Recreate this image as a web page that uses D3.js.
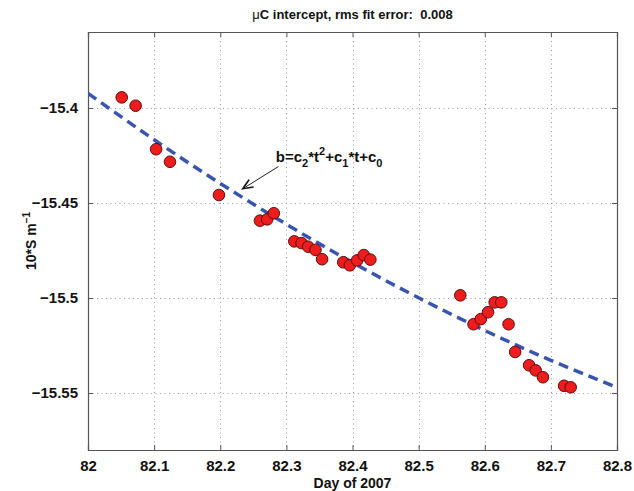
<!DOCTYPE html>
<html>
<head>
<meta charset="utf-8">
<script src="https://cdn.jsdelivr.net/npm/d3@7"></script>
<style>
body { margin: 0; background: #fff; }
text { font-family: "Liberation Sans", Arial, Helvetica, sans-serif; font-weight: bold; }
</style>
</head>
<body>
<script>

const w = 634;
const h = 491;

// measured points
const days = [82.051, 82.072, 82.103, 82.124, 82.198, 82.260, 82.271, 82.281,
    82.312, 82.323, 82.333, 82.344, 82.354, 82.386, 82.396, 82.407, 82.417, 82.427,
    82.563, 82.583, 82.594, 82.605, 82.615, 82.625, 82.636, 82.646, 82.667, 82.677,
    82.688, 82.720, 82.730];
const intercepts = [-15.3944, -15.3988, -15.4217, -15.4283, -15.4458, -15.4593, -15.4586, -15.4554,
    -15.4702, -15.4711, -15.4730, -15.4747, -15.4796, -15.4812, -15.4828, -15.4802, -15.4774, -15.4798,
    -15.4986, -15.5138, -15.5111, -15.5075, -15.5023, -15.5023, -15.5138, -15.5284, -15.5354, -15.5381,
    -15.5417, -15.5462, -15.5470];

// quadratic fit
const fitDays = [82, 82.1, 82.2, 82.3, 82.4, 82.5, 82.6, 82.7, 82.8];
const fitVals = [-15.3923, -15.4167, -15.4397, -15.4612, -15.4813, -15.4999, -15.5171, -15.5328, -15.5470];

const xTicks = [82, 82.1, 82.2, 82.3, 82.4, 82.5, 82.6, 82.7, 82.8];
const yTicks = [-15.4, -15.45, -15.5, -15.55];

const mLeft = 88, mRight = 617, mTop = 32, mBottom = 450;

let svg = d3.select("body")
    .append("svg")
    .attr("width", w)
    .attr("height", h)

svg.append("rect").attr("width", w).attr("height", h).attr("fill", "#fff")

var x = d3.scaleLinear().domain([82, 82.8]).range([mLeft, mRight]);
var y = d3.scaleLinear().domain([-15.58, -15.36]).range([mBottom, mTop]);

const fmt = d => d3.format("")(d).replace("-", "\u2212");

// grid
var grid = svg.append("g").attr("stroke", "#9a9a9a").attr("stroke-width", 1).attr("stroke-dasharray", "1,3.5")
grid.selectAll(".gx").data(xTicks.slice(1, -1)).enter().append("line")
    .attr("x1", d => Math.round(x(d)) + 0.5).attr("x2", d => Math.round(x(d)) + 0.5)
    .attr("y1", mTop).attr("y2", mBottom)
grid.selectAll(".gy").data(yTicks).enter().append("line")
    .attr("y1", d => Math.round(y(d)) + 0.5).attr("y2", d => Math.round(y(d)) + 0.5)
    .attr("x1", mLeft).attr("x2", mRight)

// axes (ticks inward, box)
var xAxis = svg.append("g").attr("transform", "translate(0," + mBottom + ")")
    .call(d3.axisBottom(x).tickValues(xTicks).tickSize(-5).tickPadding(10).tickFormat(fmt))
var xTop = svg.append("g").attr("transform", "translate(0," + mTop + ")")
    .call(d3.axisTop(x).tickValues(xTicks).tickSize(-5).tickFormat(""))
var yAxis = svg.append("g").attr("transform", "translate(" + mLeft + ",0)")
    .call(d3.axisLeft(y).tickValues(yTicks).tickSize(-5).tickPadding(10).tickFormat(fmt))
var yRight = svg.append("g").attr("transform", "translate(" + mRight + ",0)")
    .call(d3.axisRight(y).tickValues(yTicks).tickSize(-5).tickFormat(""))

svg.selectAll(".domain").attr("stroke", "#555").attr("stroke-width", 1.2)
svg.selectAll(".tick line").attr("stroke", "#555")
svg.selectAll(".tick text").attr("font-size", 15).attr("fill", "#111")
    .style("font-family", "'Liberation Sans', Arial, sans-serif").style("font-weight", "bold")

// fit line
var line = d3.line()
    .x((d, i) => x(fitDays[i]))
    .y(d => y(d))
    .curve(d3.curveNatural)

var clip = svg.append("clipPath").attr("id", "clip").append("rect")
    .attr("x", mLeft).attr("y", mTop).attr("width", mRight - mLeft).attr("height", mBottom - mTop)

svg.append("path")
    .datum(fitVals)
    .attr("clip-path", "url(#clip)")
    .attr("d", line)
    .attr("fill", "none")
    .attr("stroke", "#3a55ad")
    .attr("stroke-width", 3.5)
    .attr("stroke-dasharray", "10,6")

// points
svg.append("g")
    .selectAll("circle")
    .data(days)
    .enter()
    .append("circle")
    .attr("cx", d => x(d))
    .attr("cy", (d, i) => y(intercepts[i]))
    .attr("r", 5.8)
    .attr("fill", "#ee1c1c")
    .attr("stroke", "#5a0e0e")
    .attr("stroke-width", 1)

// annotation arrow
var tip = [x(82.234), y(-15.4425)];
var tail = [x(82.288), y(-15.4308)];
svg.append("line")
    .attr("x1", tail[0]).attr("y1", tail[1]).attr("x2", tip[0]).attr("y2", tip[1])
    .attr("stroke", "#222").attr("stroke-width", 1)
var ang = Math.atan2(tail[1] - tip[1], tail[0] - tip[0]);
var a1 = ang + 0.4, a2 = ang - 0.4, L = 11;
svg.append("path")
    .attr("d", "M" + (tip[0] + L * Math.cos(a1)) + "," + (tip[1] + L * Math.sin(a1)) +
        "L" + tip[0] + "," + tip[1] +
        "L" + (tip[0] + L * Math.cos(a2)) + "," + (tip[1] + L * Math.sin(a2)))
    .attr("fill", "none").attr("stroke", "#111").attr("stroke-width", 1.6)

var ann = svg.append("text").attr("x", x(82.284)).attr("y", y(-15.4285)).attr("font-size", 15).attr("fill", "#111")
ann.append("tspan").text("b=c")
ann.append("tspan").text("2").attr("font-size", 11).attr("dy", 5)
ann.append("tspan").text("*t").attr("dy", -5)
ann.append("tspan").text("2").attr("font-size", 11).attr("dy", -7)
ann.append("tspan").text("+c").attr("dy", 7)
ann.append("tspan").text("1").attr("font-size", 11).attr("dy", 5)
ann.append("tspan").text("*t+c").attr("dy", -5)
ann.append("tspan").text("0").attr("font-size", 11).attr("dy", 5)

// title
var title = svg.append("text").attr("x", (mLeft + mRight) / 2).attr("y", 19)
    .attr("text-anchor", "middle").attr("font-size", 13).attr("fill", "#111")
title.append("tspan").text("\u03bc").style("font-weight", "normal")
title.append("tspan").text("C intercept, rms fit error:\u00a0\u00a00.008")

svg.append("text").attr("x", (mLeft + mRight) / 2).attr("y", 488)
    .attr("text-anchor", "middle").attr("font-size", 14).attr("fill", "#111")
    .text("Day of 2007")

var yl = svg.append("text").attr("transform", "translate(36," + ((mTop + mBottom) / 2) + ") rotate(-90)")
    .attr("text-anchor", "middle").attr("font-size", 14).attr("fill", "#111")
yl.append("tspan").text("10*S m")
yl.append("tspan").text("\u22121").attr("font-size", 10).attr("dy", -6)

</script>
</body>
</html>
